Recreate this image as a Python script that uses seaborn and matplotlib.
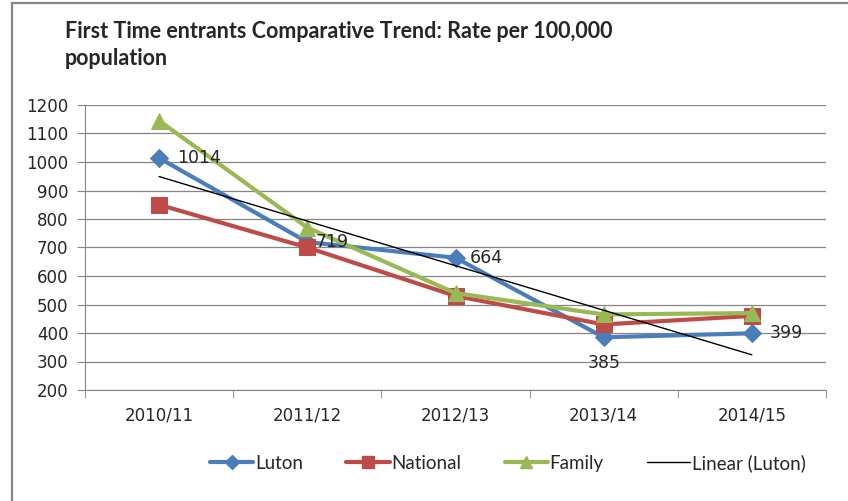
import numpy as np
import pandas as pd
import seaborn as sns
import matplotlib.pyplot as plt
from matplotlib.patches import Rectangle
from matplotlib.lines import Line2D

years = ["2010/11", "2011/12", "2012/13", "2013/14", "2014/15"]
luton = [1014, 719, 664, 385, 399]
national = [850, 700, 530, 430, 460]
family = [1145, 770, 540, 465, 470]

series_names = ["Luton", "National", "Family"]
colors = {"Luton": "#4A7EBB", "National": "#BE4B48", "Family": "#98B954"}
markers = {"Luton": "D", "National": "s", "Family": "^"}

sns.set_style("white")
plt.rcParams['font.family'] = ['DejaVu Sans']

df = pd.DataFrame({
    "x": list(range(len(years))) * 3,
    "value": luton + national + family,
    "series": [s for s in series_names for _ in years],
})

fig = plt.figure(figsize=(8.48, 5.01), dpi=100)
ax = fig.add_axes([85 / 848, 1 - 390 / 501, (826 - 85) / 848, (390 - 105) / 501])

# outer chart border
fig.patches.append(Rectangle((12 / 848, -0.05), 0.99, 1 - 3 / 501 + 0.05,
                             transform=fig.transFigure, fill=False,
                             edgecolor="#868686", lw=1.6))

for name in series_names:
    sub = df[df.series == name]
    sns.lineplot(data=sub, x="x", y="value", color=colors[name], marker=markers[name],
                 markersize=11 if name != "Luton" else 9, markeredgecolor=colors[name],
                 lw=3, ax=ax, legend=False)

# linear trend of Luton
xs = np.arange(len(years))
k, b = np.polyfit(xs, luton, 1)
ax.plot(xs, k * xs + b, color="black", lw=1)

# data labels for Luton
offsets = [(13, 0, "left", "center"), (6, 0, "left", "center"), (10, 0, "left", "center"),
           (0, -12, "center", "top"), (13, 0, "left", "center")]
for i, v in enumerate(luton):
    dx, dy, ha, va = offsets[i]
    ax.annotate(str(v), (i, v), xytext=(dx, dy), textcoords="offset points",
                ha=ha, va=va, fontsize=12.5)

ax.set_xlim(-0.5, len(years) - 0.5)
ax.set_ylim(200, 1200)
ax.set_yticks(range(200, 1201, 100))
ax.set_xticks(range(len(years)))
ax.set_xticklabels(years, fontsize=12)
ax.set_xticks(np.arange(-0.5, len(years), 1), minor=True)
ax.tick_params(axis="y", labelsize=12, length=6, color="#868686", direction="out", left=True, pad=6)
ax.tick_params(axis="x", which="major", length=0, pad=12)
ax.tick_params(axis="x", which="minor", length=6, color="#868686", direction="out", bottom=True)
ax.grid(axis="y", color="#868686", lw=0.9)
ax.set_axisbelow(True)
ax.set_xlabel("")
ax.set_ylabel("")
for s in ["top", "right"]:
    ax.spines[s].set_visible(False)
for s in ["left", "bottom"]:
    ax.spines[s].set_color("#868686")

fig.text(65 / 848, 1 - 21 / 501, "First Time entrants Comparative Trend: Rate per 100,000\npopulation",
         family="Lato", fontweight="bold", fontsize=15.5, va="top", ha="left", linespacing=1.35)

handles = [Line2D([], [], color=colors[n], marker=markers[n], lw=3, markersize=9 if n != "Luton" else 7)
           for n in series_names]
handles.append(Line2D([], [], color="black", lw=1))
fig.legend(handles, series_names + ["Linear (Luton)"], loc="center", bbox_to_anchor=(508 / 848, 1 - 463 / 501),
           ncol=4, frameon=False, prop={"family": "Lato", "size": 13.5}, handlelength=2.3,
           handletextpad=0.1, columnspacing=2.3)

fig.savefig("out.png", dpi=100)
